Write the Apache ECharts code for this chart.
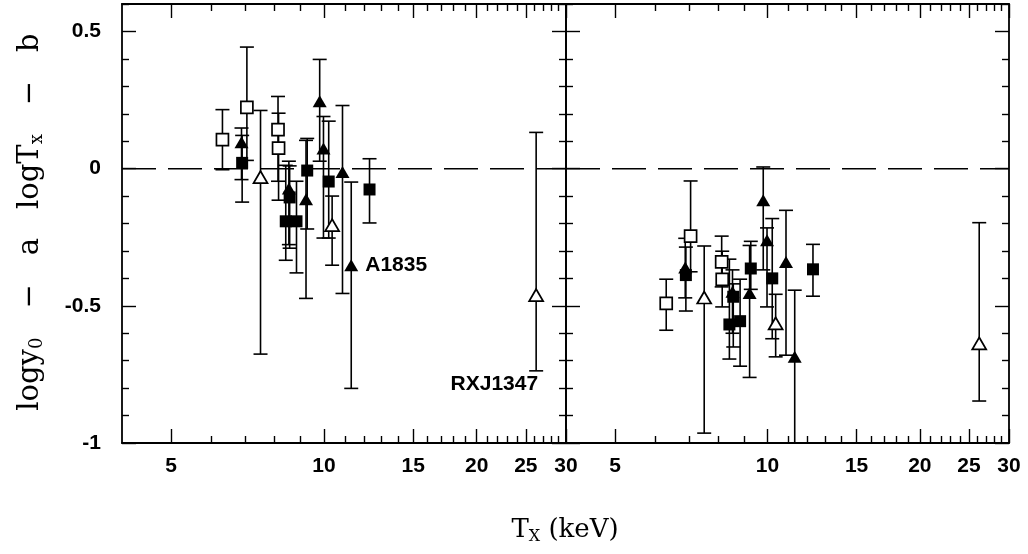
<!DOCTYPE html>
<html><head><meta charset="utf-8">
<script src="https://cdn.jsdelivr.net/npm/echarts@6/dist/echarts.min.js"></script>
<style>html,body{margin:0;padding:0;background:#fff}#c{width:1028px;height:554px}</style>
</head><body><div id="c"></div><script>
// Cluster temperatures (keV), shared by both panels
const tempKeV = [6.31, 7.05, 6.88, 6.90, 7.50, 8.12, 8.14, 8.53, 8.56, 8.41, 8.83, 9.27, 9.22, 9.81, 9.98, 10.22, 10.38, 10.88, 11.32, 12.30, 26.2];
// os = open square, ot = open triangle, fs = filled square, ft = filled triangle
const markerKind = ['os','os','ft','fs','ot','os','os','ft','fs','fs','fs','fs','ft','ft','ft','fs','ot','ft','ft','fs','ot'];
// Left panel residuals and error limits
const yLeft  = [0.106, 0.223, 0.096, 0.021, -0.031, 0.142, 0.075, -0.072, -0.105, -0.192, -0.192, -0.007, -0.112, 0.246, 0.073, -0.047, -0.206, -0.012, -0.352, -0.076, -0.461];
const loLeft = [-0.004, 0.03, -0.04, -0.122, -0.676, -0.046, -0.115, -0.277, -0.29, -0.334, -0.38, -0.22, -0.473, 0.027, -0.253, -0.253, -0.352, -0.455, -0.801, -0.198, -0.737];
const hiLeft = [0.215, 0.443, 0.148, 0.121, 0.212, 0.263, 0.202, 0.027, 0.01, 0.012, -0.046, 0.11, 0.103, 0.398, 0.19, 0.173, -0.1, 0.23, -0.049, 0.036, 0.132];
// Right panel residuals and error limits
const yRight  = [-0.491, -0.246, -0.36, -0.388, -0.47, -0.34, -0.404, -0.449, -0.467, -0.568, -0.556, -0.364, -0.453, -0.115, -0.261, -0.4, -0.564, -0.34, -0.686, -0.367, -0.637];
const loRight = [-0.589, -0.376, -0.471, -0.519, -0.964, -0.431, -0.504, -0.6, -0.65, -0.694, -0.72, -0.44, -0.761, -0.369, -0.504, -0.62, -0.686, -0.68, -1.0, -0.465, -0.847];
const hiRight = [-0.403, -0.045, -0.254, -0.286, -0.282, -0.246, -0.301, -0.369, -0.42, -0.33, -0.403, -0.265, -0.28, 0.006, -0.216, -0.182, -0.458, -0.152, -0.443, -0.276, -0.197];
// Tick values
const xMajorTicks = [5, 10, 15, 20, 25, 30];
const xMinorTicks = [6, 7, 8, 9, 11, 12, 13, 14, 16, 17, 18, 19, 21, 22, 23, 24, 26, 27, 28, 29];
const yMajorTicks = [-1, -0.5, 0, 0.5];
const yMinorTicks = [-0.9, -0.8, -0.7, -0.6, -0.4, -0.3, -0.2, -0.1, 0.1, 0.2, 0.3, 0.4, 0.6];
const xRange = [4, 30];
const yRange = [-1, 0.6];
// Annotations (left panel)
const annoText = ['A1835', 'RXJ1347'];
const annoX = [11.32, 26.2];
const annoY = [-0.352, -0.737];

const chart = echarts.init(document.getElementById('c'), null, {renderer: 'canvas'});
const BLACK = '#000';
const labelFont = {fontFamily: 'Liberation Sans', fontSize: 21, fontWeight: 'bold', color: BLACK};

const grids = [
  {left: 122, top: 4, width: 444, height: 439},
  {left: 566, top: 4, width: 443, height: 439}
];
const xAxes = [], yAxes = [], series = [];

function xAxis(g, pos, ticks, len, withLine, withLabels) {
  return {
    type: 'log', logBase: 10, gridIndex: g, position: pos, min: xRange[0], max: xRange[1],
    axisLine: {show: withLine, onZero: false, lineStyle: {color: BLACK, width: 1.8}},
    axisTick: {show: true, inside: true, length: len, customValues: ticks, lineStyle: {color: BLACK, width: 1.4}},
    axisLabel: withLabels ? Object.assign({show: true, margin: 13, customValues: xMajorTicks}, labelFont) : {show: false},
    splitLine: {show: false}, minorTick: {show: false}
  };
}
function yAxis(g, pos, ticks, len, withLine, withLabels) {
  return {
    type: 'value', gridIndex: g, position: pos, min: yRange[0], max: yRange[1],
    axisLine: {show: withLine, onZero: false, lineStyle: {color: BLACK, width: 1.8}},
    axisTick: {show: true, inside: true, length: len, customValues: ticks, lineStyle: {color: BLACK, width: 1.4}},
    axisLabel: withLabels ? Object.assign({show: true, margin: 21, customValues: yMajorTicks,
      formatter: v => String(v)}, labelFont) : {show: false},
    splitLine: {show: false}
  };
}

function renderErr(params, api) {
  const x = api.value(0), lo = api.value(1), hi = api.value(2);
  const a = api.coord([x, lo]), b = api.coord([x, hi]);
  const cw = 7;
  const st = {stroke: BLACK, lineWidth: 1.6};
  return {type: 'group', children: [
    {type: 'line', shape: {x1: a[0], y1: a[1], x2: b[0], y2: b[1]}, style: st},
    {type: 'line', shape: {x1: a[0] - cw, y1: a[1], x2: a[0] + cw, y2: a[1]}, style: st},
    {type: 'line', shape: {x1: b[0] - cw, y1: b[1], x2: b[0] + cw, y2: b[1]}, style: st}
  ]};
}

const panels = [
  {y: yLeft, lo: loLeft, hi: hiLeft},
  {y: yRight, lo: loRight, hi: hiRight}
];
const markerStyles = {
  os: {symbol: 'rect', size: 12, item: {color: '#fff', borderColor: BLACK, borderWidth: 1.7, opacity: 1}},
  ot: {symbol: 'triangle', size: [14, 12], item: {color: '#fff', borderColor: BLACK, borderWidth: 1.7, opacity: 1}},
  fs: {symbol: 'rect', size: 12, item: {color: BLACK, opacity: 1}},
  ft: {symbol: 'triangle', size: [14, 12], item: {color: BLACK, opacity: 1}}
};

panels.forEach((p, g) => {
  const xb = xAxes.length, yb = yAxes.length;
  xAxes.push(xAxis(g, 'bottom', xMajorTicks, 14, true, true));
  xAxes.push(xAxis(g, 'bottom', xMinorTicks, 7, false, false));
  xAxes.push(xAxis(g, 'top', xMajorTicks, 14, true, false));
  xAxes.push(xAxis(g, 'top', xMinorTicks, 7, false, false));
  yAxes.push(yAxis(g, 'left', yMajorTicks, 14, true, g === 0));
  yAxes.push(yAxis(g, 'left', yMinorTicks, 7, false, false));
  yAxes.push(yAxis(g, 'right', yMajorTicks, 14, true, false));
  yAxes.push(yAxis(g, 'right', yMinorTicks, 7, false, false));

  // zero reference line
  series.push({
    type: 'line', xAxisIndex: xb, yAxisIndex: yb, data: [[xRange[0], 0], [xRange[1], 0]],
    symbol: 'none', silent: true, z: 1,
    lineStyle: {color: BLACK, width: 1.5, type: [34, 12]}
  });
  // error bars
  series.push({
    type: 'custom', xAxisIndex: xb, yAxisIndex: yb, z: 2, silent: true,
    renderItem: renderErr, encode: {x: 0, y: [1, 2]},
    data: tempKeV.map((t, i) => [t, p.lo[i], p.hi[i]])
  });
  // markers
  ['os', 'ot', 'fs', 'ft'].forEach(k => {
    const ms = markerStyles[k];
    series.push({
      type: 'scatter', xAxisIndex: xb, yAxisIndex: yb, z: 3, silent: true,
      symbol: ms.symbol, symbolSize: ms.size, itemStyle: ms.item,
      data: tempKeV.map((t, i) => markerKind[i] === k ? [t, p.y[i]] : null).filter(d => d)
    });
  });
});

// annotations on left panel
series.push({
  type: 'scatter', xAxisIndex: 0, yAxisIndex: 0, z: 4, silent: true, symbolSize: 0,
  itemStyle: {opacity: 1},
  data: [
    {value: [annoX[0], annoY[0]], label: Object.assign({show: true, position: 'right', distance: 14, formatter: annoText[0]}, labelFont)},
    {value: [annoX[1], annoY[1]], label: Object.assign({show: true, position: 'inside', align: 'right', verticalAlign: 'top', offset: [2, 3], formatter: annoText[1]}, labelFont)}
  ],
  label: Object.assign({textBorderWidth: 0}, labelFont)
});

const option = {
  backgroundColor: '#fff',
  animation: false,
  grid: grids,
  xAxis: xAxes,
  yAxis: yAxes,
  series: series,
  graphic: [
    {type: 'text', x: 565, y: 530, silent: true,
      style: {text: 'T{sub|X} (keV)', fill: BLACK, font: '26px "DejaVu Serif"', align: 'center', verticalAlign: 'middle',
        rich: {sub: {fontSize: 16, fontFamily: 'DejaVu Serif', verticalAlign: 'bottom', padding: [14, 0, 0, 0]}}}},
    {type: 'text', x: 30, y: 222, rotation: Math.PI / 2, silent: true,
      style: {text: 'logy{sub|0}{g| }−{g| }a{g| }logT{sub|x}{g| }−{g| }b', fill: BLACK, font: '29px "DejaVu Serif"',
        align: 'center', verticalAlign: 'middle',
        rich: {sub: {fontSize: 18, fontFamily: 'DejaVu Serif', verticalAlign: 'bottom', padding: [14, 0, 0, 0]},
               g: {fontSize: 29, fontFamily: 'DejaVu Serif', width: 29}}}}
  ]
};
chart.setOption(option);
</script></body></html>
